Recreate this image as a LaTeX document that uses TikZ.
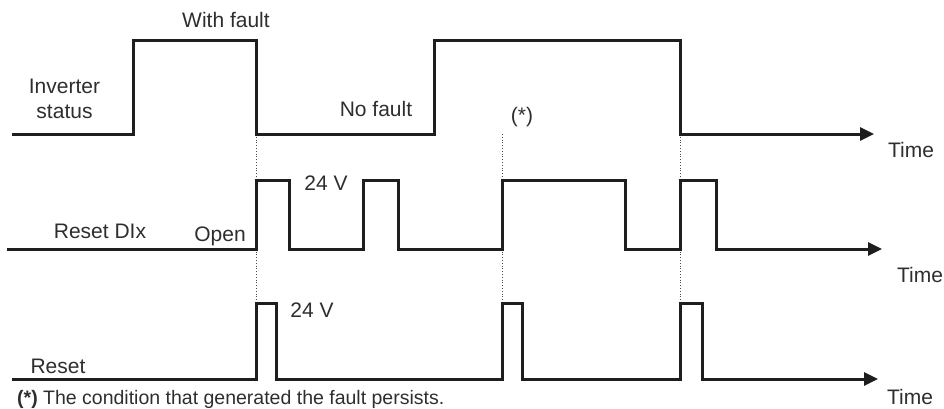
\documentclass[tikz,border=0pt]{standalone}
\usepackage{fontspec}
\setmainfont{Liberation Sans}
\usetikzlibrary{arrows.meta}
\definecolor{ink}{HTML}{1E1E1E}
\definecolor{txt}{HTML}{2E2E2E}
\tikzset{
  trace/.style={line width=3pt, draw=ink, line join=miter},
  axis/.style={trace, -{Triangle[length=14pt,width=13pt]}},
  guide/.style={draw=black!70, line width=0.8pt, dotted},
  lbl/.style={inner sep=0pt, text=txt, font=\fontsize{21}{25}\selectfont},
  note/.style={inner sep=0pt, text=txt, font=\fontsize{19.5}{22}\selectfont}
}
\begin{document}
\begin{tikzpicture}[x=1pt,y=-1pt]
\useasboundingbox (0,0) rectangle (944,409);
% guides
\coordinate (g1t) at (256,134); \coordinate (g1b) at (256,303);
\coordinate (g2t) at (502,134); \coordinate (g2b) at (502,303);
\coordinate (g3t) at (680,134); \coordinate (g3b) at (680,303);
\draw[guide] (g1t) -- (g1b);
\draw[guide] (g2t) -- (g2b);
\draw[guide] (g3t) -- (g3b);
% row 1: inverter status
\coordinate (s1) at (12,134);
\coordinate (e1) at (874,134);
\draw[axis] (s1) -- (133,134) -- (133,41) -- (256,41) -- (256,134) -- (434,134) -- (434,41) -- (680,41) -- (680,134) -- (e1);
% row 2: reset DIx
\coordinate (s2) at (7,249);
\coordinate (e2) at (882,249);
\draw[axis] (s2) -- (256,249) -- (256,180) -- (289,180) -- (289,249) -- (363,249) -- (363,180) -- (398,180) -- (398,249) -- (502,249) -- (502,180) -- (625,180) -- (625,249) -- (680,249) -- (680,180) -- (716,180) -- (716,249) -- (e2);
% row 3: reset
\coordinate (s3) at (12,379);
\coordinate (e3) at (878,379);
\draw[axis] (s3) -- (256,379) -- (256,303) -- (276,303) -- (276,379) -- (502,379) -- (502,303) -- (522,303) -- (522,379) -- (680,379) -- (680,303) -- (702,303) -- (702,379) -- (e3);
% labels
\node[lbl, anchor=base] (withfault) at (226,28) {With fault};
\node[lbl, anchor=center, align=center] (invstat) at (64.5,99) {Inverter\\status};
\node[lbl, anchor=base] (nofault) at (376,117) {No fault};
\node[lbl, anchor=base] (star) at (522,122) {(*)};
\node[lbl, anchor=base] (time1) at (911,157) {Time};
\node[lbl, anchor=base] (resetdix) at (100,238) {Reset DIx};
\node[lbl, anchor=base] (open) at (220,241) {Open};
\node[lbl, anchor=base] (v24a) at (326,190) {24 V};
\node[lbl, anchor=base] (time2) at (920,282) {Time};
\node[lbl, anchor=base] (reset) at (58,373) {Reset};
\node[lbl, anchor=base] (v24b) at (312,317) {24 V};
\node[lbl, anchor=base] (time3) at (910,404) {Time};
\node[note, anchor=base west] (foot) at (17,404) {\textbf{(*)} The condition that generated the fault persists.};
\end{tikzpicture}
\end{document}
